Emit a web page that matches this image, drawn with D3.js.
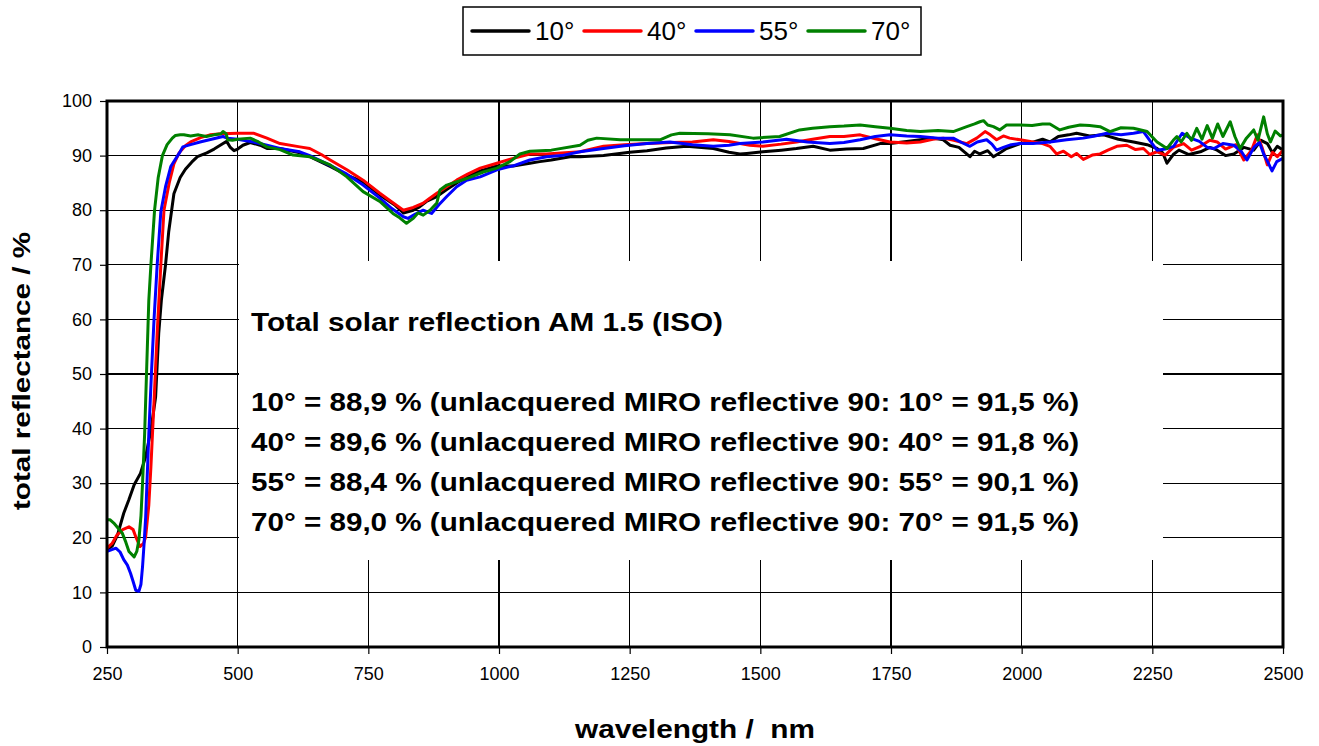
<!DOCTYPE html>
<html>
<head>
<meta charset="utf-8">
<script src="https://cdn.jsdelivr.net/npm/d3@7"></script>
<style>
  html, body { margin: 0; padding: 0; background: #fff; }
  svg { display: block; }
</style>
</head>
<body>
<svg id="chart" width="1319" height="746"></svg>
<script>
// ---------- DATA ----------
const seriesNames = ["10°", "40°", "55°", "70°"];
const seriesColors = ["#000000", "#ff0000", "#0000ff", "#008000"];
const xTicks = [250, 500, 750, 1000, 1250, 1500, 1750, 2000, 2250, 2500];
const yTicks = [0, 10, 20, 30, 40, 50, 60, 70, 80, 90, 100];

const s10 = [[250,17.8],[260,18.5],[270,20.5],[282,24.5],[292,27],[302,29.7],[314,31.8],[324,34.9],[334,39.7],[343,45.8],[349,57.5],[354,63.5],[362,70],[368,76],[378,83],[390,86],[400,87.5],[412,88.8],[423,89.8],[441,90.5],[455,91.2],[472,92.2],[479,92.6],[486,91.5],[493,90.9],[500,91.2],[510,91.9],[524,92.4],[543,91.9],[556,91.3],[581,91.3],[619,90.5],[638,89.8],[677,88],[709,86.4],[740,85.2],[772,82.8],[800,81],[817,79.5],[836,80],[848,80.6],[861,81.6],[881,82.5],[900,83.8],[919,85],[940,86.2],[964,87.2],[996,88.1],[1027,88.1],[1059,88.6],[1078,88.9],[1100,89.2],[1136,89.8],[1155,89.8],[1200,90],[1250,90.6],[1283,90.9],[1320,91.4],[1359,91.7],[1410,91.3],[1440,90.6],[1461,90.3],[1474,90.4],[1505,90.7],[1540,91],[1569,91.3],[1601,91.7],[1633,91],[1665,91.2],[1697,91.3],[1729,92.2],[1748,92.2],[1780,92.6],[1806,92.9],[1830,93.2],[1850,92.9],[1863,91.9],[1880,91.5],[1901,89.8],[1910,90.8],[1920,90.3],[1935,90.9],[1946,89.8],[1960,90.6],[1971,91.3],[1997,92.2],[2020,92.4],[2040,93],[2054,92.5],[2070,93.5],[2090,93.8],[2105,94.1],[2130,93.6],[2157,93.8],[2185,93],[2214,92.5],[2240,92],[2259,91.3],[2270,90.5],[2278,88.6],[2290,90.2],[2301,91],[2320,90.2],[2342,90.7],[2360,91.5],[2374,91],[2390,90],[2406,90.3],[2425,91.5],[2444,91],[2458,92.8],[2470,92.2],[2480,90.5],[2489,91.7],[2500,91]];

const s40 = [[250,18.1],[260,19],[269,20.5],[280,21.5],[292,22],[300,21.5],[305,20.2],[313,18.4],[320,19],[324,20.2],[330,26],[334,33],[340,45],[346,57.5],[353,70],[359,80],[369,85],[378,88.5],[388,90.5],[400,91.8],[410,92.5],[429,93.3],[447,93.8],[470,94],[500,94.1],[530,94.1],[556,93.2],[581,92.2],[619,91.6],[638,91.3],[660,90.2],[677,89.2],[709,87.4],[740,85.5],[772,83.1],[795,81.5],[817,80],[836,80.5],[855,81.3],[865,82],[881,83.1],[900,84.3],[919,85.5],[940,86.6],[964,87.7],[996,88.6],[1020,89.3],[1059,90.3],[1091,90.3],[1155,90.7],[1200,91.7],[1240,92],[1283,92.2],[1330,92.4],[1370,92.5],[1410,92.9],[1440,92.6],[1461,92.2],[1480,91.9],[1505,91.7],[1540,92.1],[1569,92.5],[1600,93],[1633,93.5],[1660,93.5],[1691,93.8],[1720,93.1],[1748,92.5],[1780,92.3],[1806,92.5],[1830,93],[1850,93.2],[1870,92.8],[1895,92.2],[1914,93.2],[1930,94.4],[1940,93.8],[1952,92.9],[1965,93.6],[1977,93.2],[1997,92.9],[2022,92.5],[2040,92.2],[2054,91.7],[2067,90.3],[2080,90.8],[2095,89.8],[2105,90.4],[2118,89.3],[2135,90.1],[2150,90.3],[2165,91],[2182,91.7],[2201,91.9],[2218,91.1],[2233,91.3],[2245,90.2],[2259,90.7],[2275,90.1],[2290,91.5],[2310,92.2],[2325,91],[2342,91.7],[2360,92.8],[2374,92.5],[2390,91.2],[2410,92],[2425,89.2],[2440,91],[2451,93.8],[2460,91.5],[2470,88.3],[2480,90.6],[2489,89.8],[2500,91]];

const s55 = [[250,17.5],[258,17.8],[267,18.1],[275,17.4],[282,16],[289,15],[295,13.5],[300,12],[305,10.4],[311,10.2],[315,11.5],[318,14.7],[321,19],[324,23.8],[330,39],[335,50],[340,60],[346,70],[353,79.7],[362,84.3],[372,88],[388,90.4],[395,91.6],[410,92],[428,92.5],[450,93],[472,93.5],[480,93.2],[500,93],[530,92.5],[556,91.9],[581,91.3],[619,90.7],[638,90],[677,88.2],[709,86.6],[740,84.6],[772,82.2],[795,80.3],[817,78.8],[826,78.5],[840,79.3],[855,80],[863,79.7],[871,79.4],[885,81],[900,82.5],[919,84.3],[938,85.5],[964,86.1],[996,87.4],[1030,88.2],[1059,89.2],[1091,89.8],[1120,90],[1155,90.7],[1200,91.3],[1240,91.8],[1283,92.2],[1327,92.5],[1370,92],[1410,91.7],[1440,91.9],[1461,92.2],[1505,92.5],[1550,93],[1590,92.5],[1633,92.2],[1660,92.4],[1691,92.9],[1720,93.5],[1748,93.8],[1780,93.6],[1806,93.5],[1840,93.2],[1869,93.2],[1885,92.4],[1901,91.7],[1915,92.5],[1933,92.9],[1943,92.1],[1952,91],[1965,91.5],[1980,92],[1997,92.2],[2022,92.2],[2054,92.5],[2086,92.9],[2118,93.2],[2140,93.6],[2163,94.1],[2190,93.8],[2214,94.1],[2233,94.4],[2245,92.8],[2259,91],[2275,91.2],[2291,91.7],[2307,94.1],[2323,93.2],[2340,92.6],[2355,91.5],[2368,91.3],[2385,92.2],[2406,91.9],[2420,90.8],[2431,89.2],[2445,91.6],[2455,92.4],[2463,90.3],[2471,88.8],[2479,87.2],[2488,88.9],[2500,89.5]];

const s70 = [[250,23.3],[256,23.3],[263,22.7],[271,21.8],[279,20.9],[286,19.2],[292,17.5],[302,16.5],[307,17.5],[311,19.6],[315,24],[318,30],[322,39],[326,51.3],[330,63.5],[334,70],[341,80],[348,86],[356,90],[365,92],[375,93.2],[381,93.7],[390,93.8],[397,93.8],[410,93.6],[425,93.8],[440,93.5],[455,93.8],[468,94],[472,94.4],[478,94],[481,92.9],[490,92.8],[500,93],[524,93.2],[540,92.5],[556,91.6],[581,91.1],[606,90.1],[638,89.8],[677,88.3],[709,86.1],[740,83.4],[772,81.6],[797,79.4],[810,78.6],[823,77.6],[836,78.5],[845,79.5],[855,79.1],[868,80],[881,81.3],[887,83.7],[900,84.6],[938,85.8],[970,87],[996,87.7],[1021,88.9],[1040,90.3],[1059,90.8],[1100,91],[1155,91.9],[1170,92.8],[1187,93.2],[1232,92.9],[1270,92.9],[1308,92.9],[1330,93.8],[1346,94.1],[1400,94],[1442,93.8],[1486,93.2],[1537,93.5],[1575,94.7],[1600,95],[1633,95.3],[1660,95.4],[1691,95.6],[1720,95.3],[1748,95],[1780,94.6],[1806,94.4],[1840,94.6],[1869,94.4],[1895,95.3],[1910,95.8],[1920,96.2],[1927,96.4],[1935,95.6],[1946,95.3],[1958,94.7],[1971,95.6],[1997,95.6],[2020,95.5],[2040,95.8],[2054,95.8],[2073,94.7],[2090,95.2],[2112,95.6],[2130,95.5],[2150,95.3],[2169,94.4],[2190,95.1],[2214,95],[2240,94.4],[2259,92.5],[2270,91.8],[2278,91.3],[2290,92.8],[2297,93.5],[2305,92.5],[2316,94.1],[2325,92.8],[2335,95],[2345,93],[2355,95.5],[2365,93.2],[2375,95.8],[2385,93.5],[2399,96.2],[2408,93.5],[2418,91.3],[2430,93.2],[2444,94.7],[2452,92.8],[2463,97.1],[2470,94],[2476,92.5],[2485,94.5],[2495,93.6],[2500,93.8]];

const seriesData = [s10, s40, s55, s70];

const noteTitle = "Total solar reflection AM 1.5 (ISO)";
const noteLines = [
  "10° = 88,9 % (unlacquered MIRO reflective 90: 10° = 91,5 %)",
  "40° = 89,6 % (unlacquered MIRO reflective 90: 40° = 91,8 %)",
  "55° = 88,4 % (unlacquered MIRO reflective 90: 55° = 90,1 %)",
  "70° = 89,0 % (unlacquered MIRO reflective 90: 70° = 91,5 %)"
];

// ---------- LAYOUT ----------
const svg = d3.select("#chart");
const L = 107, R = 1283, T = 101, B = 647;
const x = d3.scaleLinear().domain([250, 2500]).range([L, R]);
const y = d3.scaleLinear().domain([0, 100]).range([B, T]);
const font = "'Liberation Sans', Arial, Helvetica, sans-serif";

// gridlines
const grid = svg.append("g");
grid.selectAll("line.h").data(yTicks.filter(d => d > 0 && d < 100)).enter()
  .append("line").attr("x1", L).attr("x2", R)
  .attr("y1", d => y(d)).attr("y2", d => y(d))
  .attr("stroke", "#000").attr("stroke-width", 1.2).attr("shape-rendering", "crispEdges");
grid.selectAll("line.v").data(xTicks.filter(d => d > 250 && d < 2500)).enter()
  .append("line").attr("y1", T).attr("y2", B)
  .attr("x1", d => x(d)).attr("x2", d => x(d))
  .attr("stroke", "#000").attr("stroke-width", 1.2).attr("shape-rendering", "crispEdges");

// white note box
svg.append("rect").attr("x", 239).attr("y", 261).attr("width", 924).attr("height", 299).attr("fill", "#fff");

// note text
const note = svg.append("g").attr("font-family", font).attr("font-weight", "bold").attr("font-size", 26).attr("fill", "#000");
note.append("text").attr("x", 251).attr("y", 331).text(noteTitle)
  .attr("textLength", 472).attr("lengthAdjust", "spacingAndGlyphs");
note.selectAll("text.l").data(noteLines).enter().append("text")
  .attr("x", 251).attr("y", (d, i) => 411 + i * 40).text(d => d)
  .attr("textLength", 828).attr("lengthAdjust", "spacingAndGlyphs");

// clip
svg.append("clipPath").attr("id", "clip").append("rect")
  .attr("x", L).attr("y", T).attr("width", R - L).attr("height", B - T);

const line = d3.line().x(d => x(d[0])).y(d => y(d[1]));
svg.append("g").attr("clip-path", "url(#clip)")
  .selectAll("path").data(seriesData).enter().append("path")
  .attr("d", line).attr("fill", "none")
  .attr("stroke", (d, i) => seriesColors[i]).attr("stroke-width", 3)
  .attr("stroke-linejoin", "round").attr("stroke-linecap", "round");

// frame
svg.append("rect").attr("x", L).attr("y", T).attr("width", R - L).attr("height", B - T)
  .attr("fill", "none").attr("stroke", "#000").attr("stroke-width", 3);

// axes
const yAxis = svg.append("g").attr("transform", `translate(${L - 1},0)`)
  .call(d3.axisLeft(y).tickValues(yTicks).tickFormat(d3.format("d")).tickSize(6).tickPadding(8));
const xAxis = svg.append("g").attr("transform", `translate(0,${B + 1})`)
  .call(d3.axisBottom(x).tickValues(xTicks).tickFormat(d3.format("d")).tickSize(6).tickPadding(13));
[xAxis, yAxis].forEach(a => {
  a.select(".domain").remove();
  a.selectAll(".tick line").attr("stroke", "#000").attr("stroke-width", 1.2);
  a.selectAll(".tick text").attr("font-family", font).attr("font-size", 18).attr("fill", "#000");
});

// axis titles
svg.append("text").attr("x", 695).attr("y", 738).attr("text-anchor", "middle")
  .attr("font-family", font).attr("font-weight", "bold").attr("font-size", 26)
  .style("white-space", "pre")
  .attr("textLength", 240).attr("lengthAdjust", "spacingAndGlyphs")
  .text("wavelength /  nm");
svg.append("text").attr("transform", "translate(30,371) rotate(-90)").attr("text-anchor", "middle")
  .attr("font-family", font).attr("font-weight", "bold").attr("font-size", 24)
  .attr("textLength", 278).attr("lengthAdjust", "spacingAndGlyphs")
  .text("total reflectance / %");

// legend
const leg = svg.append("g");
leg.append("rect").attr("x", 463).attr("y", 7).attr("width", 458).attr("height", 48)
  .attr("fill", "#fff").attr("stroke", "#000").attr("stroke-width", 1.5);
const legX = [472, 584, 696, 808];
seriesNames.forEach((n, i) => {
  leg.append("line").attr("x1", legX[i]).attr("x2", legX[i] + 57).attr("y1", 31).attr("y2", 31)
    .attr("stroke", seriesColors[i]).attr("stroke-width", 3.5).attr("stroke-linecap", "round");
  leg.append("text").attr("x", legX[i] + 63).attr("y", 40).attr("font-family", font)
    .attr("font-size", 26).attr("fill", "#000").text(n);
});
</script>
</body>
</html>
